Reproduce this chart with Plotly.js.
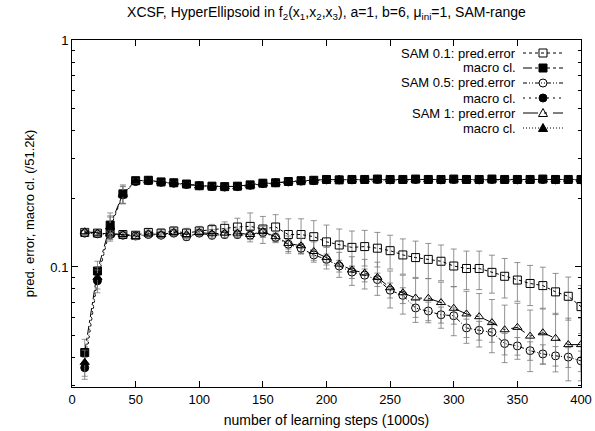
<!DOCTYPE html>
<html>
<head>
<meta charset="utf-8">
<script src="https://cdn.plot.ly/plotly-3.0.1.min.js"></script>
<style>html,body{margin:0;padding:0;background:#fff}#chart{width:595px;height:431px}</style>
</head>
<body>
<div id="chart"></div>
<script>
// learning steps (1000s)
const steps = [10,20,30,40,50,60,70,80,90,100,110,120,130,140,150,160,170,180,190,200,
               210,220,230,240,250,260,270,280,290,300,310,320,330,340,350,360,370,380,390,400];

const sam01Pred = [0.142,0.141,0.141,0.139,0.138,0.142,0.141,0.144,0.141,0.144,0.146,0.148,0.150,0.151,0.147,0.150,0.139,0.139,0.136,0.129,
                   0.125,0.122,0.123,0.121,0.118,0.113,0.110,0.108,0.106,0.101,0.0985,0.0985,0.0947,0.0910,0.0876,0.0846,0.0828,0.0777,0.0743,0.0669];
const sam01PredErr = [0.004,0.004,0.004,0.004,0.004,0.005,0.006,0.006,0.007,0.007,0.008,0.010,0.014,0.022,0.020,0.020,0.024,0.024,0.024,0.024,
                      0.022,0.022,0.022,0.021,0.020,0.020,0.020,0.019,0.019,0.019,0.019,0.019,0.018,0.018,0.017,0.017,0.017,0.016,0.016,0.016];
const sam01Macro = [0.042,0.096,0.153,0.210,0.240,0.241,0.237,0.235,0.232,0.228,0.227,0.226,0.227,0.230,0.234,0.235,0.238,0.240,0.241,0.243,
                    0.242,0.243,0.243,0.244,0.243,0.243,0.244,0.243,0.243,0.244,0.243,0.243,0.244,0.243,0.243,0.243,0.244,0.243,0.243,0.243];
const sam01MacroErr = [0.006,0.010,0.020,0.020,0.005,0.004,0.003,0.003,0.003,0.003,0.003,0.003,0.003,0.003,0.003,0.003,0.003,0.003,0.003,0.003,
                       0.003,0.003,0.003,0.003,0.003,0.003,0.003,0.003,0.003,0.003,0.003,0.003,0.003,0.003,0.003,0.003,0.003,0.003,0.003,0.003];

const sam05Pred = [0.141,0.140,0.139,0.138,0.137,0.139,0.138,0.141,0.136,0.141,0.138,0.139,0.139,0.138,0.142,0.135,0.126,0.121,0.113,0.108,
                   0.101,0.095,0.092,0.088,0.079,0.075,0.066,0.064,0.0616,0.0610,0.0539,0.0526,0.0516,0.0460,0.0449,0.0428,0.0414,0.0406,0.0401,0.0386];
const sam05PredErr = [0.004,0.004,0.004,0.004,0.004,0.004,0.004,0.005,0.005,0.005,0.005,0.005,0.005,0.005,0.006,0.006,0.006,0.006,0.006,0.006,
                      0.006,0.006,0.006,0.006,0.006,0.006,0.006,0.006,0.005,0.005,0.005,0.005,0.005,0.005,0.004,0.004,0.004,0.004,0.004,0.004];
const sam05Macro = [0.036,0.087,0.148,0.208,0.238,0.240,0.236,0.234,0.231,0.228,0.226,0.225,0.226,0.229,0.233,0.235,0.237,0.239,0.240,0.242,
                    0.242,0.242,0.243,0.243,0.242,0.243,0.243,0.243,0.242,0.243,0.243,0.242,0.243,0.243,0.242,0.243,0.243,0.242,0.243,0.242];
const sam05MacroErr = [0.004,0.010,0.018,0.018,0.005,0.004,0.003,0.003,0.003,0.003,0.003,0.003,0.003,0.003,0.003,0.003,0.003,0.003,0.003,0.003,
                       0.003,0.003,0.003,0.003,0.003,0.003,0.003,0.003,0.003,0.003,0.003,0.003,0.003,0.003,0.003,0.003,0.003,0.003,0.003,0.003];

const sam1Pred = [0.143,0.141,0.140,0.139,0.136,0.140,0.139,0.142,0.139,0.142,0.140,0.141,0.141,0.139,0.143,0.136,0.127,0.124,0.117,0.110,
                  0.103,0.097,0.094,0.090,0.081,0.077,0.073,0.0728,0.0697,0.0658,0.0621,0.0604,0.0569,0.0529,0.0542,0.0496,0.0513,0.0485,0.0455,0.0455];
const sam1PredErr = [0.004,0.004,0.004,0.004,0.004,0.004,0.005,0.005,0.005,0.005,0.006,0.006,0.006,0.007,0.008,0.008,0.010,0.010,0.012,0.012,
                     0.013,0.014,0.014,0.015,0.015,0.015,0.016,0.016,0.016,0.016,0.016,0.016,0.015,0.015,0.015,0.015,0.014,0.014,0.014,0.014];
const sam1Macro = [0.038,0.090,0.150,0.209,0.239,0.240,0.237,0.235,0.232,0.228,0.227,0.226,0.226,0.229,0.233,0.235,0.238,0.240,0.241,0.243,
                   0.243,0.242,0.243,0.243,0.243,0.242,0.243,0.243,0.243,0.243,0.242,0.243,0.243,0.243,0.243,0.242,0.243,0.243,0.243,0.243];
const sam1MacroErr = [0.005,0.010,0.018,0.018,0.005,0.004,0.003,0.003,0.003,0.003,0.003,0.003,0.003,0.003,0.003,0.003,0.003,0.003,0.003,0.003,
                      0.003,0.003,0.003,0.003,0.003,0.003,0.003,0.003,0.003,0.003,0.003,0.003,0.003,0.003,0.003,0.003,0.003,0.003,0.003,0.003];

const seriesNames = ['SAM 0.1: pred.error','macro cl.','SAM 0.5: pred.error','macro cl.','SAM 1: pred.error','macro cl.'];
const xTicks = [0,50,100,150,200,250,300,350,400];
const yTicks = [0.1,1];
const yMinor = [0.03,0.04,0.05,0.06,0.07,0.08,0.09,0.2,0.3,0.4,0.5,0.6,0.7,0.8,0.9];

// styles
const symbols = ['square-open','square','circle-open','circle','triangle-up-open','triangle-up'];
const dashes = ['dot','dashdot','4px,2px,1px,2px,1px,2px','2px,4px','longdashdot','1px,2px'];
const ys = [sam01Pred, sam01Macro, sam05Pred, sam05Macro, sam1Pred, sam1Macro];
const errs = [sam01PredErr, sam01MacroErr, sam05PredErr, sam05MacroErr, sam1PredErr, sam1MacroErr];

const W = 595, H = 431, M = {l:72, r:14, t:40, b:44};
const pw = W - M.l - M.r, ph = H - M.t - M.b;
const px = p => (p - M.l) / pw;
const py = p => (H - M.b - p) / ph;

const data = ys.map((y, i) => ({
  type:'scatter', mode:'lines+markers', name:seriesNames[i], x:steps, y:y, showlegend:false,
  line:{color:'#000', width:1, dash:dashes[i]},
  marker:{symbol:symbols[i], size:8, color:'#000', line:{color:'#000', width:1}},
  error_y:{type:'data', array:errs[i], visible:true, color:'#777', thickness:0.8, width:3}
}));

// hand-built gnuplot-style legend (text left of key)
const fontFam = '"Liberation Sans", Arial, Helvetica, sans-serif';
const shapes = [], annotations = [];
const rowY = [53, 68, 83, 98, 113, 128];
const textRight = 517, keyL = 523, keyR = 563, keyC = 543, s = 4;
seriesNames.forEach((nm, i) => {
  const yy = rowY[i];
  annotations.push({xref:'paper', yref:'paper', x:px(textRight), y:py(yy), xanchor:'right', yanchor:'middle',
    text:nm, showarrow:false, borderpad:0, font:{family:fontFam, size:13, color:'#000'}});
  shapes.push({type:'line', xref:'paper', yref:'paper', x0:px(keyL), x1:px(keyR), y0:py(yy), y1:py(yy),
    line:{color:'#000', width:1, dash:dashes[i]}});
  const filled = !symbols[i].endsWith('open');
  const fill = filled ? '#000' : 'rgba(0,0,0,0)';
  const base = symbols[i].replace('-open','');
  if (base === 'square' || base === 'circle') {
    shapes.push({type: base === 'square' ? 'rect' : 'circle', xref:'paper', yref:'paper',
      x0:px(keyC - s), x1:px(keyC + s), y0:py(yy + s), y1:py(yy - s),
      line:{color:'#000', width:1}, fillcolor:fill});
  } else {
    const path = 'M' + px(keyC - s - 0.5) + ',' + py(yy + s - 0.5) + ' L' + px(keyC + s + 0.5) + ',' + py(yy + s - 0.5) +
                 ' L' + px(keyC) + ',' + py(yy - s - 0.5) + ' Z';
    shapes.push({type:'path', xref:'paper', yref:'paper', path:path, line:{color:'#000', width:1}, fillcolor:fill});
  }
});

const layout = {
  width:W, height:H,
  margin:M,
  paper_bgcolor:'#fff', plot_bgcolor:'#fff',
  font:{family:fontFam, size:13, color:'#000'},
  showlegend:false,
  title:{text:'XCSF, HyperEllipsoid in f<sub>2</sub>(x<sub>1</sub>,x<sub>2</sub>,x<sub>3</sub>), a=1, b=6, μ<sub>ini</sub>=1, SAM-range',
         font:{family:fontFam, size:14, color:'#000'}, x:0.5, xref:'paper', xanchor:'center', y:0.972, yanchor:'middle'},
  xaxis:{
    range:[0,400], tickvals:xTicks, ticktext:xTicks.map(String),
    ticks:'inside', ticklen:6, tickcolor:'#000', tickwidth:1,
    tickfont:{family:fontFam, size:13, color:'#000'},
    showline:true, linecolor:'#000', linewidth:1, mirror:'allticks',
    showgrid:false, zeroline:false,
    title:{text:'number of learning steps (1000s)', font:{family:fontFam, size:14, color:'#000'}, standoff:9}
  },
  yaxis:{
    type:'log', range:[Math.log10(0.0296), 0],
    tickvals:yTicks, ticktext:['0.1','1'],
    ticks:'inside', ticklen:6, tickcolor:'#000', tickwidth:1,
    tickfont:{family:fontFam, size:13, color:'#000'},
    minor:{tickvals:yMinor, ticks:'inside', ticklen:3, tickcolor:'#000', showgrid:false},
    showline:true, linecolor:'#000', linewidth:1, mirror:'allticks',
    showgrid:false, zeroline:false,
    title:{text:'pred. error, macro cl. (/51.2k)', font:{family:fontFam, size:13, color:'#000'}, standoff:12}
  },
  shapes:shapes,
  annotations:annotations
};

Plotly.newPlot('chart', data, layout, {displayModeBar:false, staticPlot:true});
</script>
</body>
</html>
